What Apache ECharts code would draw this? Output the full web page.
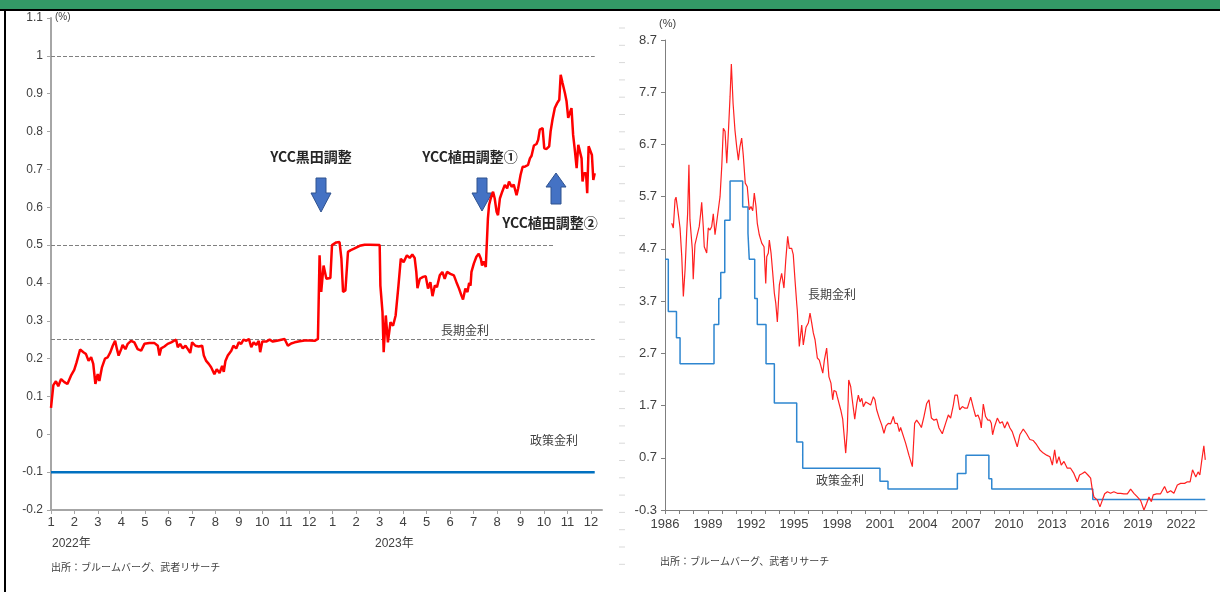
<!DOCTYPE html>
<html>
<head>
    <meta charset="utf-8">
    <title>長期金利と政策金利</title>
    <script src="https://cdn.jsdelivr.net/npm/echarts@6/dist/echarts.min.js"></script>
    <style>
        body { margin: 0; background: #fff; }
        #main { width: 1220px; height: 592px; }
    </style>
</head>
<body>
<div id="main"></div>
<script type="text/javascript">
    // 左: 2022年1月からの月数, 長期金利(10年国債利回り)
    var leftJgb = [
        [0, 0.07], [0.10, 0.13], [0.21, 0.14], [0.31, 0.127], [0.43, 0.146], [0.57, 0.138], [0.70, 0.133], [0.85, 0.155],
        [0.99, 0.17], [1.09, 0.19], [1.24, 0.224], [1.38, 0.217], [1.49, 0.212], [1.60, 0.194], [1.71, 0.204], [1.80, 0.186],
        [1.89, 0.133], [1.99, 0.159], [2.06, 0.141], [2.17, 0.177], [2.30, 0.2], [2.41, 0.203], [2.53, 0.217], [2.63, 0.234],
        [2.73, 0.247], [2.81, 0.225], [2.88, 0.208], [2.99, 0.225], [3.05, 0.236], [3.17, 0.225], [3.27, 0.239], [3.41, 0.247],
        [3.55, 0.243], [3.69, 0.225], [3.84, 0.221], [3.98, 0.239], [4.19, 0.241], [4.41, 0.241], [4.55, 0.234], [4.62, 0.208],
        [4.69, 0.227], [4.83, 0.232], [4.97, 0.239], [5.12, 0.243], [5.23, 0.247], [5.33, 0.25], [5.40, 0.23], [5.50, 0.239],
        [5.61, 0.227], [5.73, 0.234], [5.83, 0.225], [5.93, 0.215], [6.01, 0.243], [6.15, 0.234], [6.29, 0.232], [6.44, 0.234],
        [6.51, 0.208], [6.61, 0.194], [6.72, 0.186], [6.82, 0.177], [6.89, 0.168], [6.96, 0.159], [7.06, 0.172], [7.18, 0.162],
        [7.29, 0.181], [7.36, 0.165], [7.43, 0.194], [7.53, 0.208], [7.68, 0.221], [7.77, 0.234], [7.89, 0.227], [8.00, 0.243],
        [8.10, 0.239], [8.20, 0.25], [8.32, 0.247], [8.43, 0.252], [8.53, 0.23], [8.63, 0.243], [8.74, 0.236], [8.85, 0.247],
        [8.91, 0.217], [9.00, 0.245], [9.17, 0.245], [9.31, 0.25], [9.45, 0.245], [9.62, 0.247], [9.81, 0.25], [9.95, 0.252],
        [10.09, 0.234], [10.23, 0.24], [10.38, 0.243], [10.59, 0.246], [10.80, 0.248], [11.01, 0.248], [11.23, 0.247], [11.37, 0.252],
        [11.44, 0.473], [11.51, 0.376], [11.61, 0.446], [11.73, 0.411], [11.90, 0.413], [11.97, 0.5], [12.15, 0.507], [12.29, 0.508],
        [12.37, 0.464], [12.44, 0.376], [12.54, 0.38], [12.65, 0.482], [12.75, 0.486], [12.93, 0.491], [13.15, 0.498], [13.36, 0.501],
        [13.57, 0.501], [14.00, 0.5], [14.03, 0.393], [14.12, 0.323], [14.17, 0.217], [14.26, 0.314], [14.35, 0.243], [14.46, 0.296],
        [14.57, 0.287], [14.68, 0.314], [14.80, 0.393], [14.90, 0.464], [15.02, 0.455], [15.16, 0.473], [15.28, 0.466], [15.39, 0.475],
        [15.49, 0.466], [15.56, 0.429], [15.61, 0.386], [15.71, 0.411], [15.85, 0.416], [15.96, 0.418], [16.06, 0.385], [16.16, 0.402],
        [16.25, 0.365], [16.35, 0.393], [16.44, 0.389], [16.56, 0.42], [16.67, 0.429], [16.77, 0.411], [16.87, 0.429], [17.01, 0.424],
        [17.16, 0.42], [17.27, 0.402], [17.38, 0.385], [17.48, 0.367], [17.55, 0.356], [17.65, 0.385], [17.74, 0.376], [17.81, 0.4],
        [17.87, 0.393], [17.91, 0.429], [18.01, 0.451], [18.12, 0.469], [18.22, 0.477], [18.31, 0.464], [18.36, 0.446], [18.43, 0.457],
        [18.52, 0.442], [18.58, 0.442], [18.61, 0.57], [18.66, 0.606], [18.73, 0.623], [18.83, 0.641], [18.90, 0.623], [18.98, 0.588],
        [19.04, 0.579], [19.12, 0.623], [19.22, 0.641], [19.33, 0.659], [19.43, 0.65], [19.51, 0.668], [19.62, 0.654], [19.71, 0.66],
        [19.83, 0.632], [19.90, 0.65], [20.00, 0.685], [20.09, 0.707], [20.18, 0.707], [20.32, 0.712], [20.40, 0.729], [20.47, 0.736],
        [20.57, 0.763], [20.68, 0.767], [20.75, 0.778], [20.82, 0.805], [20.94, 0.809], [21.01, 0.756], [21.11, 0.754], [21.22, 0.761],
        [21.28, 0.8], [21.36, 0.831], [21.46, 0.862], [21.56, 0.875], [21.65, 0.884], [21.71, 0.95], [21.79, 0.928], [21.89, 0.902],
        [21.96, 0.88], [22.03, 0.836], [22.10, 0.849], [22.17, 0.862], [22.24, 0.791], [22.32, 0.747], [22.39, 0.703], [22.46, 0.765],
        [22.53, 0.769], [22.60, 0.729], [22.64, 0.668], [22.70, 0.69], [22.79, 0.69], [22.84, 0.637], [22.90, 0.761], [22.98, 0.761],
        [23.04, 0.738], [23.10, 0.672], [23.16, 0.69]
    ];
    var leftPolicy = [[0, -0.1], [23.16, -0.1]];
    var leftRefLevels = [[1.0, 23.16], [0.5, 21.47], [0.25, 23.16]];   // [水準, 終点の月]
    var leftYLabels = [-0.2, -0.1, 0, 0.1, 0.2, 0.3, 0.4, 0.5, 0.6, 0.7, 0.8, 0.9, 1, 1.1];
    var monthLabels = ['1', '2', '3', '4', '5', '6', '7', '8', '9', '10', '11', '12'];

    // 右: 年, 長期金利
    var rightJgb = [
        [1986.47, 5.19], [1986.58, 5.10], [1986.70, 5.64], [1986.77, 5.69], [1986.89, 5.45], [1987.05, 5.10], [1987.17, 4.55],
        [1987.28, 3.79], [1987.40, 4.30], [1987.51, 5.00], [1987.58, 5.38], [1987.67, 6.31], [1987.74, 5.26], [1987.81, 5.26],
        [1987.91, 4.68], [1987.97, 4.12], [1988.09, 4.78], [1988.21, 4.80], [1988.39, 5.13], [1988.49, 5.38], [1988.56, 5.59],
        [1988.67, 5.13], [1988.74, 4.74], [1988.91, 4.62], [1989.02, 5.10], [1989.14, 5.06], [1989.26, 5.13], [1989.37, 5.37],
        [1989.49, 4.97], [1989.61, 4.94], [1989.72, 5.45], [1989.84, 5.70], [1989.96, 6.28], [1990.07, 7.01], [1990.19, 6.95],
        [1990.31, 6.34], [1990.42, 6.92], [1990.54, 7.62], [1990.63, 8.24], [1990.75, 7.49], [1990.88, 6.98], [1991.00, 6.66],
        [1991.12, 6.40], [1991.23, 6.66], [1991.35, 6.82], [1991.46, 6.50], [1991.60, 5.96], [1991.74, 5.89], [1991.88, 5.45],
        [1992.00, 5.51], [1992.12, 5.43], [1992.23, 5.77], [1992.35, 5.51], [1992.44, 5.19], [1992.58, 4.97], [1992.75, 4.81],
        [1992.91, 4.74], [1993.03, 4.04], [1993.10, 4.55], [1993.21, 4.62], [1993.28, 4.87], [1993.40, 4.62], [1993.52, 4.23],
        [1993.63, 3.85], [1993.73, 3.66], [1993.84, 3.30], [1993.98, 4.01], [1994.14, 4.23], [1994.30, 3.95], [1994.42, 4.46],
        [1994.56, 4.94], [1994.67, 4.71], [1994.84, 4.71], [1994.95, 4.59], [1995.07, 4.11], [1995.19, 3.66], [1995.23, 3.53],
        [1995.37, 2.83], [1995.54, 3.24], [1995.65, 2.86], [1995.84, 3.20], [1996.00, 3.28], [1996.12, 3.47], [1996.24, 3.28],
        [1996.35, 3.09], [1996.47, 2.96], [1996.63, 2.61], [1996.77, 2.57], [1996.89, 2.59], [1997.01, 2.32], [1997.12, 2.57],
        [1997.28, 2.80], [1997.44, 2.25], [1997.58, 2.13], [1997.70, 1.81], [1997.79, 1.99], [1997.93, 1.97], [1998.02, 1.87],
        [1998.14, 1.84], [1998.26, 1.62], [1998.40, 1.44], [1998.49, 1.46], [1998.61, 0.79], [1998.72, 1.23], [1998.82, 2.19],
        [1998.96, 2.06], [1999.10, 1.74], [1999.24, 1.44], [1999.38, 1.74], [1999.49, 1.90], [1999.61, 1.77], [1999.73, 1.84],
        [1999.84, 1.68], [2000.01, 1.77], [2000.19, 1.74], [2000.35, 1.71], [2000.54, 1.87], [2000.65, 1.81], [2000.77, 1.62],
        [2000.95, 1.46], [2001.12, 1.33], [2001.28, 1.17], [2001.42, 1.31], [2001.58, 1.36], [2001.75, 1.35], [2001.93, 1.49],
        [2002.05, 1.36], [2002.21, 1.36], [2002.35, 1.20], [2002.44, 1.28], [2002.79, 0.98], [2003.02, 0.75], [2003.26, 0.53],
        [2003.42, 1.36], [2003.56, 1.42], [2003.72, 1.36], [2003.89, 1.28], [2004.07, 1.49], [2004.26, 1.74], [2004.42, 1.81],
        [2004.59, 1.46], [2004.77, 1.42], [2004.96, 1.44], [2005.12, 1.27], [2005.35, 1.16], [2005.58, 1.36], [2005.77, 1.52],
        [2005.93, 1.46], [2006.12, 1.71], [2006.23, 1.90], [2006.40, 1.90], [2006.56, 1.62], [2006.75, 1.68], [2006.93, 1.65],
        [2007.10, 1.65], [2007.33, 1.86], [2007.52, 1.65], [2007.68, 1.49], [2007.84, 1.52], [2007.98, 1.42], [2008.07, 1.27],
        [2008.21, 1.73], [2008.37, 1.49], [2008.53, 1.42], [2008.67, 1.42], [2008.77, 1.36], [2008.86, 1.14], [2009.00, 1.30],
        [2009.19, 1.46], [2009.37, 1.36], [2009.54, 1.39], [2009.70, 1.27], [2009.89, 1.39], [2010.07, 1.27], [2010.23, 1.20],
        [2010.39, 1.07], [2010.58, 0.91], [2010.76, 1.14], [2011.00, 1.25], [2011.23, 1.16], [2011.46, 1.05], [2011.70, 1.03],
        [2011.93, 0.95], [2012.16, 0.85], [2012.40, 0.79], [2012.63, 0.75], [2012.86, 0.72], [2013.03, 0.56], [2013.19, 0.85],
        [2013.33, 0.59], [2013.49, 0.72], [2013.65, 0.56], [2013.84, 0.63], [2014.07, 0.50], [2014.30, 0.50], [2014.53, 0.40],
        [2014.77, 0.24], [2014.93, 0.37], [2015.12, 0.40], [2015.30, 0.43], [2015.51, 0.37], [2015.70, 0.31], [2015.82, 0.08],
        [2015.93, -0.05], [2016.17, -0.11], [2016.35, -0.24], [2016.52, -0.11], [2016.68, 0.01], [2016.87, 0.05], [2017.09, 0.02],
        [2017.32, 0.05], [2017.56, 0.02], [2017.79, 0.02], [2018.02, 0.01], [2018.26, 0.01], [2018.49, 0.10], [2018.72, 0.02],
        [2018.96, -0.05], [2019.19, -0.12], [2019.42, -0.30], [2019.61, -0.17], [2019.77, -0.05], [2019.94, -0.14], [2020.07, -0.01],
        [2020.30, 0.01], [2020.58, 0.01], [2020.86, 0.15], [2021.05, 0.03], [2021.28, 0.07], [2021.51, 0.02], [2021.75, 0.18],
        [2021.98, 0.21], [2022.26, 0.21], [2022.45, 0.24], [2022.64, 0.24], [2022.81, 0.47], [2022.92, 0.50], [2023.04, 0.33],
        [2023.20, 0.43], [2023.32, 0.37], [2023.46, 0.66], [2023.60, 0.93], [2023.70, 0.66]
    ];
    // 右: 政策金利（変更時点, 水準）
    var rightPolicy = [
        [1986.0, 4.5], [1986.23, 3.5], [1986.8, 3.0], [1987.05, 2.5], [1989.42, 3.25], [1989.75, 3.75], [1989.89, 4.25],
        [1990.17, 5.25], [1990.54, 6.0], [1991.42, 5.5], [1991.79, 5.0], [1991.88, 4.5], [1992.26, 3.75], [1992.44, 3.25],
        [1993.05, 2.5], [1993.63, 1.75], [1995.19, 1.0], [1995.61, 0.5], [2001.0, 0.25], [2001.56, 0.1], [2006.4, 0.4],
        [2007.0, 0.75], [2008.6, 0.3], [2008.8, 0.1], [2015.85, -0.1], [2023.7, -0.1]
    ];

    var numFont = '"Liberation Sans", Arial, "Noto Sans CJK JP", sans-serif';
    var jpFont = '"Noto Sans CJK JP", "Liberation Sans", sans-serif';

    function arrow(cx, top, bottom, headTop, up) {
        // 矢印の形 (注記用)
        var sw = 5, hw = 10;
        var pts;
        if (!up) {
            pts = [[cx - sw, top], [cx + sw, top], [cx + sw, headTop], [cx + hw, headTop],
                [cx, bottom], [cx - hw, headTop], [cx - sw, headTop]];
        } else {
            pts = [[cx, top], [cx + hw, headTop], [cx + sw, headTop], [cx + sw, bottom],
                [cx - sw, bottom], [cx - sw, headTop], [cx - hw, headTop]];
        }
        return {
            type: 'polygon', shape: { points: pts },
            style: { fill: '#4472c4', stroke: '#2f528f', lineWidth: 1 }
        };
    }

    var sideTicks = [];
    for (var t = 28; t < 580; t += 17.3) {
        sideTicks.push({ type: 'line', shape: { x1: 619, y1: t, x2: 625, y2: t }, style: { stroke: '#d9d9d9', lineWidth: 1 } });
    }

    var myChart = echarts.init(document.getElementById('main'));

    option = {
        animation: false,
        backgroundColor: '#fff',
        textStyle: { fontFamily: numFont },
        grid: [
            { left: 51, top: 18, width: 551, height: 492 },
            { left: 665, top: 40, width: 542, height: 470 }
        ],
        xAxis: [
            {
                type: 'value', gridIndex: 0, min: 0, max: 23.47, interval: 1,
                axisLine: { onZero: false, lineStyle: { color: '#a6a6a6', width: 2 } },
                axisTick: { show: true, length: 4, lineStyle: { color: '#a6a6a6' } },
                splitLine: { show: false },
                axisLabel: {
                    color: '#404040', fontSize: 13, margin: 6, showMaxLabel: false,
                    formatter: function (v) {
                        if (Math.abs(v - Math.round(v)) > 1e-6) return '';
                        return monthLabels[Math.round(v) % 12];
                    }
                }
            },
            {
                type: 'value', gridIndex: 1, min: 1986, max: 2023.82, interval: 1,
                axisLine: { onZero: false, lineStyle: { color: '#7f7f7f', width: 1 } },
                axisTick: { show: true, length: 4, lineStyle: { color: '#7f7f7f' } },
                splitLine: { show: false },
                axisLabel: {
                    color: '#404040', fontSize: 13, margin: 8, showMaxLabel: false,
                    formatter: function (v) {
                        var y = Math.round(v);
                        if (Math.abs(v - y) > 1e-6 || (y - 1986) % 3 !== 0) return '';
                        return String(y);
                    }
                }
            }
        ],
        yAxis: [
            {
                type: 'value', gridIndex: 0, min: -0.2, max: 1.1, interval: 0.1,
                axisLine: { show: true, onZero: false, lineStyle: { color: '#a6a6a6', width: 2 } },
                axisTick: { show: true, length: 4, lineStyle: { color: '#a6a6a6' } },
                splitLine: { show: false },
                axisLabel: {
                    color: '#404040', fontSize: 12, margin: 8,
                    formatter: function (v) { return String(parseFloat(v.toFixed(1))); }
                }
            },
            {
                type: 'value', gridIndex: 1, min: -0.3, max: 8.7, interval: 1,
                axisLine: { show: true, onZero: false, lineStyle: { color: '#7f7f7f', width: 1 } },
                axisTick: { show: true, length: 4, lineStyle: { color: '#7f7f7f' } },
                splitLine: { show: false },
                axisLabel: {
                    color: '#404040', fontSize: 13, margin: 8,
                    formatter: function (v) { return v.toFixed(1); }
                }
            }
        ],
        series: [
            {
                name: '長期金利', type: 'line', xAxisIndex: 0, yAxisIndex: 0,
                data: leftJgb, symbol: 'none', z: 5,
                lineStyle: { color: '#ff0000', width: 2.5 },
                markLine: {
                    silent: true, symbol: 'none', label: { show: false },
                    lineStyle: { color: '#808080', type: 'dashed', width: 1 },
                    data: leftRefLevels.map(function (r) {
                        return [{ coord: [0, r[0]] }, { coord: [r[1], r[0]] }];
                    })
                }
            },
            {
                name: '政策金利', type: 'line', xAxisIndex: 0, yAxisIndex: 0,
                data: leftPolicy, symbol: 'none',
                lineStyle: { color: '#0070c0', width: 2.5 }
            },
            {
                name: '長期金利(長期)', type: 'line', xAxisIndex: 1, yAxisIndex: 1,
                data: rightJgb, symbol: 'none', z: 5,
                lineStyle: { color: '#ff2020', width: 1.2 }
            },
            {
                name: '政策金利(長期)', type: 'line', xAxisIndex: 1, yAxisIndex: 1,
                data: rightPolicy, symbol: 'none', step: 'end',
                lineStyle: { color: '#2e86d0', width: 1.5 }
            }
        ],
        graphic: [
            { type: 'rect', shape: { x: 0, y: 0, width: 1220, height: 9 }, style: { fill: '#339966' } },
            { type: 'rect', shape: { x: 0, y: 9, width: 1220, height: 2 }, style: { fill: '#000' } },
            { type: 'rect', shape: { x: 4, y: 9, width: 2, height: 583 }, style: { fill: '#000' } },
            { type: 'group', children: sideTicks },
            // 左の注記
            { type: 'text', x: 55, y: 12, style: { text: '(%)', font: '10px ' + numFont, fill: '#404040' } },
            { type: 'text', x: 311, y: 150, style: { text: 'YCC黒田調整', font: 'bold 14px ' + jpFont, fill: '#262626', textAlign: 'center' } },
            { type: 'text', x: 470, y: 150, style: { text: 'YCC植田調整①', font: 'bold 14px ' + jpFont, fill: '#262626', textAlign: 'center' } },
            { type: 'text', x: 550, y: 216, style: { text: 'YCC植田調整②', font: 'bold 14px ' + jpFont, fill: '#262626', textAlign: 'center' } },
            arrow(321, 178, 212, 193, false),
            arrow(482, 178, 211, 193, false),
            arrow(556, 173, 204, 187, true),
            { type: 'text', x: 441, y: 324, style: { text: '長期金利', font: '12px ' + jpFont, fill: '#404040' } },
            { type: 'text', x: 530, y: 434, style: { text: '政策金利', font: '12px ' + jpFont, fill: '#404040' } },
            { type: 'text', x: 52, y: 538, style: { text: '2022年', font: '12px ' + numFont, fill: '#404040' } },
            { type: 'text', x: 375, y: 538, style: { text: '2023年', font: '12px ' + numFont, fill: '#404040' } },
            { type: 'text', x: 51, y: 562, style: { text: '出所：ブルームバーグ、武者リサーチ', font: '10px ' + jpFont, fill: '#404040' } },
            // 右の注記
            { type: 'text', x: 659, y: 18, style: { text: '(%)', font: '11px ' + numFont, fill: '#404040' } },
            { type: 'text', x: 808, y: 288, style: { text: '長期金利', font: '12px ' + jpFont, fill: '#404040' } },
            { type: 'text', x: 816, y: 474, style: { text: '政策金利', font: '12px ' + jpFont, fill: '#404040' } },
            { type: 'text', x: 660, y: 556, style: { text: '出所：ブルームバーグ、武者リサーチ', font: '10px ' + jpFont, fill: '#404040' } }
        ]
    };

    myChart.setOption(option);
</script>
</body>
</html>
